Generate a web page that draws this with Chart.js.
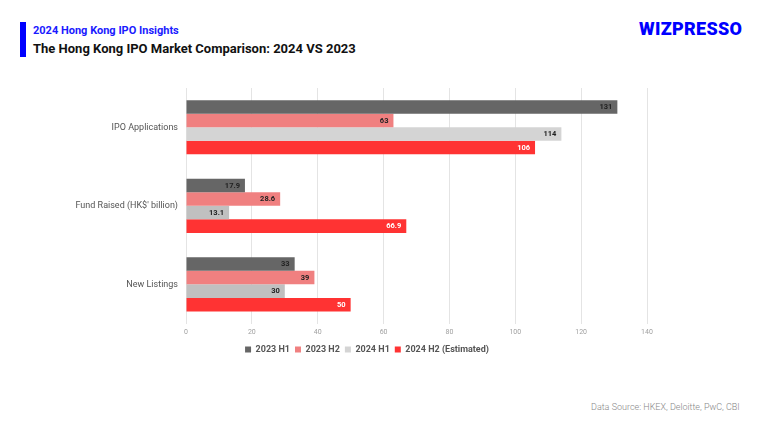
<!DOCTYPE html>
<html>
<head>
<meta charset="utf-8">
<script src="https://cdn.jsdelivr.net/npm/chart.js@4"></script>
<style>
  html,body{margin:0;padding:0;background:#fff;}
  body{width:768px;height:432px;position:relative;overflow:hidden;font-family:Roboto,"Noto Sans",sans-serif;}
  #bar{position:absolute;left:20px;top:22px;width:6px;height:35px;background:#0000ff;}
  #t1{position:absolute;left:33px;top:24px;font-size:11px;font-weight:700;color:#1a1aff;white-space:nowrap;}
  #t2{position:absolute;left:33px;top:41px;font-size:13px;font-weight:700;color:#111;white-space:nowrap;}
  #logo{position:absolute;left:639px;top:18px;font-size:18px;font-weight:900;color:#0000ff;letter-spacing:0.3px;white-space:nowrap;}
  #src{position:absolute;left:591px;top:402px;font-size:9px;font-weight:300;color:#888;white-space:nowrap;}
  #wrap{position:absolute;left:0;top:0;width:768px;height:364px;}
</style>
</head>
<body>
<div id="bar"></div>
<div id="t1">2024 Hong Kong IPO Insights</div>
<div id="t2">The Hong Kong IPO Market Comparison: 2024 VS 2023</div>
<div id="logo">WIZPRESSO</div>
<div id="src">Data Source: HKEX, Deloitte, PwC, CBI</div>
<div id="wrap"><canvas id="c"></canvas></div>
<script>
const categories = ["IPO Applications", "Fund Raised (HK$' billion)", "New Listings"];
const seriesNames = ["2023 H1", "2023 H2", "2024 H1", "2024 H2 (Estimated)"];
const h1_2023 = [131, 17.9, 33];
const h2_2023 = [63, 28.6, 39];
const h1_2024 = [114, 13.1, 30];
const h2_2024 = [106, 66.9, 50];
const xTicks = [0, 20, 40, 60, 80, 100, 120, 140];

const labelPlugin = {
  id: 'barLabels',
  afterLayout(chart) {
    // shift the legend block so it is centred under the plot like the reference
    if (chart.legend) { chart.legend.left = 87; }
  },
  afterDatasetsDraw(chart) {
    const ctx = chart.ctx;
    ctx.save();
    ctx.font = 'bold 7.5px Roboto, sans-serif';
    ctx.textAlign = 'right';
    ctx.textBaseline = 'middle';
    chart.data.datasets.forEach((ds, i) => {
      const meta = chart.getDatasetMeta(i);
      meta.data.forEach((bar, j) => {
        ctx.fillStyle = i === 3 ? '#ffffff' : '#222222';
        ctx.fillText(String(ds.data[j]), bar.x - 5, bar.y + 0.5);
      });
    });
    ctx.restore();
  }
};

new Chart(document.getElementById('c'), {
  type: 'bar',
  data: {
    labels: categories,
    datasets: [
      { label: seriesNames[0], data: h1_2023, backgroundColor: '#666666' },
      { label: seriesNames[1], data: h2_2023, backgroundColor: '#f08080' },
      { label: seriesNames[2], data: h1_2024, backgroundColor: ['#d4d4d4', '#c0c0c0', '#c0c0c0'] },
      { label: seriesNames[3], data: h2_2024, backgroundColor: '#ff3333' }
    ]
  },
  options: {
    indexAxis: 'y',
    responsive: true,
    maintainAspectRatio: false,
    animation: false,
    layout: { padding: { left: 0, right: 121, top: 88, bottom: 0 } },
    datasets: { bar: { categoryPercentage: 0.69, barPercentage: 1.0 } },
    scales: {
      x: {
        min: 0, max: 140,
        afterBuildTicks: (s) => { s.ticks = xTicks.map(v => ({ value: v })); },
        ticks: { font: { size: 7, family: 'Roboto' }, color: '#a0a0a0', padding: 4 },
        grid: { color: '#e4e4e4', drawTicks: false },
        border: { display: false }
      },
      y: {
        afterFit: (s) => { s.width = 186; },
        ticks: { font: { size: 9, family: 'Roboto' }, color: '#555', padding: 8 },
        grid: { display: false, drawTicks: false },
        border: { display: true, color: '#e4e4e4' }
      }
    },
    plugins: {
      legend: {
        position: 'bottom',
        labels: {
          boxWidth: 6, boxHeight: 6, padding: 5,
          font: { size: 9, weight: 'bold', family: 'Roboto' }, color: '#555'
        }
      },
      tooltip: { enabled: false }
    }
  },
  plugins: [labelPlugin]
});
</script>
</body>
</html>
